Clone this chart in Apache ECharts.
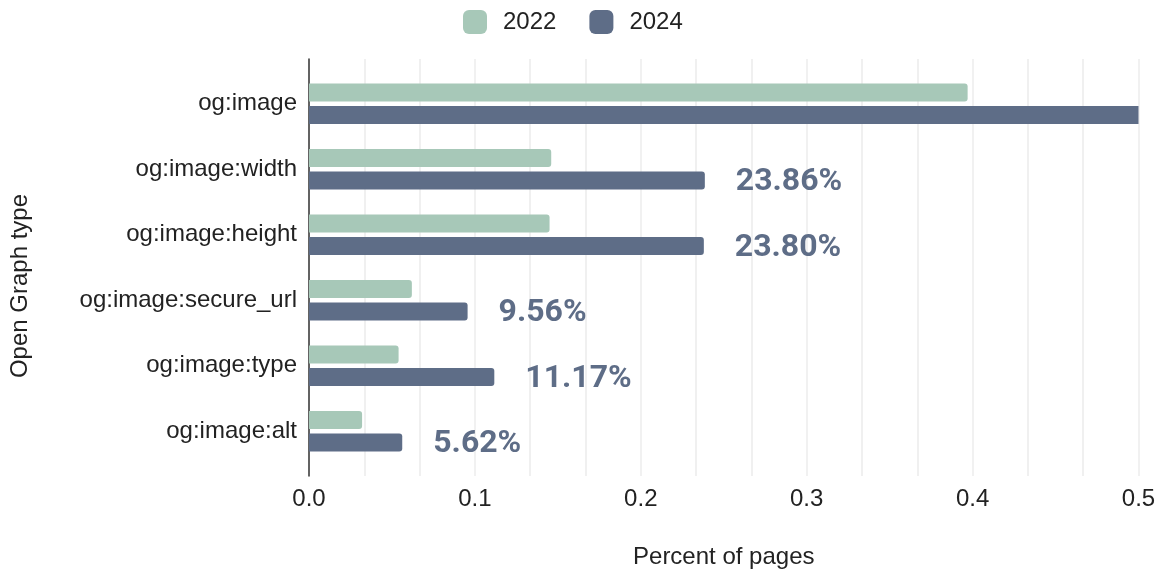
<!DOCTYPE html>
<html>
<head>
<meta charset="utf-8">
<title>Open Graph image tags</title>
<script src="https://cdn.jsdelivr.net/npm/echarts@6/dist/echarts.min.js"></script>
<style>
  html, body { margin: 0; padding: 0; background: #fff; }
  #chart { width: 1164px; height: 574px; }
</style>
</head>
<body>
<div id="chart"></div>
<script>
// Open Graph image tag usage, share of pages
const categories = ['og:image', 'og:image:width', 'og:image:height', 'og:image:secure_url', 'og:image:type', 'og:image:alt'];
const values2022 = [0.397, 0.146, 0.145, 0.062, 0.054, 0.032];
const values2024 = [0.55, 0.2386, 0.2380, 0.0956, 0.1117, 0.0562];
const seriesNames = ['2022', '2024'];
const xTicks = [0, 0.1, 0.2, 0.3, 0.4, 0.5];

const COLOR_2022 = '#a7c8b8';
const COLOR_2024 = '#5e6d87';
const FONT = 'Arial';
const FONT_SIZE = 24;
const X_MAX = xTicks[xTicks.length - 1];

const chart = echarts.init(document.getElementById('chart'), null, { renderer: 'canvas' });

// 2024 bars: the og:image bar runs past the axis end, so it is drawn square and unlabelled
const data2024 = values2024.map(v => v > X_MAX
  ? { value: v, itemStyle: { borderRadius: 0 }, label: { show: false } }
  : v);

const option = {
  animation: false,
  backgroundColor: '#ffffff',
  legend: {
    data: seriesNames,
    top: 10,
    left: 463,
    padding: 0,
    icon: 'roundRect',
    itemWidth: 24,
    itemHeight: 24,
    itemGap: 33,
    textStyle: { fontFamily: FONT, fontSize: FONT_SIZE, color: '#222', padding: [0, 0, 0, 11] }
  },
  grid: [
    // frame: axis line, grid lines and tick labels
    { left: 309, right: 25.5, top: 59, bottom: 98, containLabel: false },
    // bars
    { left: 309, right: 25.5, top: 71, bottom: 110, containLabel: false }
  ],
  xAxis: [
    {
      gridIndex: 0,
      type: 'value',
      min: 0,
      max: X_MAX,
      interval: 0.1,
      axisLine: { show: false },
      axisTick: { show: false },
      axisLabel: {
        margin: 11,
        fontFamily: FONT,
        fontSize: FONT_SIZE,
        color: '#222',
        formatter: v => v.toFixed(1)
      },
      splitLine: { show: true, lineStyle: { color: '#ececec', width: 1.5 } },
      minorTick: { show: false, splitNumber: 3 },
      minorSplitLine: { show: true, lineStyle: { color: '#ececec', width: 1.5 } },
      name: 'Percent of pages',
      nameLocation: 'middle',
      nameGap: 69,
      nameTextStyle: { fontFamily: FONT, fontSize: FONT_SIZE, color: '#222' }
    },
    {
      gridIndex: 1,
      type: 'value',
      min: 0,
      max: X_MAX,
      show: false
    }
  ],
  yAxis: [
    {
      gridIndex: 0,
      type: 'value',
      min: 0,
      max: 1,
      axisLine: { show: true, lineStyle: { color: '#333', width: 1.5 } },
      axisTick: { show: false },
      axisLabel: { show: false },
      splitLine: { show: false }
    },
    {
      gridIndex: 1,
      type: 'category',
      data: categories,
      inverse: true,
      axisLine: { show: false },
      axisTick: { show: false },
      axisLabel: {
        margin: 12,
        fontFamily: FONT,
        fontSize: FONT_SIZE,
        color: '#222'
      },
      splitLine: { show: false }
    }
  ],
  series: [
    {
      name: seriesNames[0],
      type: 'bar',
      xAxisIndex: 1,
      yAxisIndex: 1,
      data: values2022,
      barWidth: 18,
      barGap: '24%',
      itemStyle: { color: COLOR_2022, borderRadius: [0, 3, 3, 0] }
    },
    {
      name: seriesNames[1],
      type: 'bar',
      xAxisIndex: 1,
      yAxisIndex: 1,
      data: data2024,
      barWidth: 18,
      barGap: '24%',
      clip: true,
      itemStyle: { color: COLOR_2024, borderRadius: [0, 3, 3, 0] },
      label: {
        show: true,
        position: 'right',
        distance: 31,
        offset: [0, 2],
        fontFamily: 'Roboto',
        fontWeight: 'bold',
        fontSize: 32,
        color: COLOR_2024,
        formatter: p => (p.value * 100).toFixed(2) + '%'
      }
    }
  ],
  graphic: [
    {
      type: 'text',
      x: 20,
      y: 286,
      rotation: Math.PI / 2,
      style: {
        text: 'Open Graph type',
        fontFamily: FONT,
        fontSize: FONT_SIZE,
        fill: '#222',
        align: 'center',
        verticalAlign: 'middle'
      }
    }
  ]
};

chart.setOption(option);
</script>
</body>
</html>
